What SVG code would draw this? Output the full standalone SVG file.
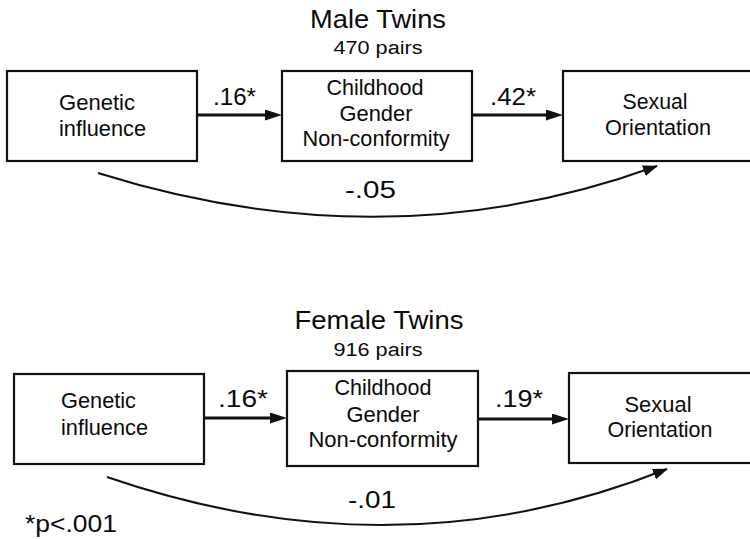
<svg xmlns="http://www.w3.org/2000/svg" width="750" height="539" viewBox="0 0 750 539">
<style>
  .box { fill: #ffffff; stroke: #111111; stroke-width: 2.2; }
  .t { font-family: "Liberation Sans", Arial, sans-serif; fill: #0a0a0a; }
  .lbl { font-size: 22.5px; }
  .num { font-size: 24px; }
  .ttl { font-size: 26px; }
  .sub { font-size: 18px; }
  .mid { text-anchor: middle; }
  .arr { fill: none; stroke: #111111; stroke-width: 3.2; }
  .curve { fill: none; stroke: #111111; stroke-width: 2; }
</style>
<defs>
  <marker id="ah" markerUnits="userSpaceOnUse" markerWidth="18" markerHeight="12" refX="10" refY="5.5" orient="auto">
    <path d="M0,0 L17,5.5 L0,11 z" fill="#111111"/>
  </marker>
  <marker id="ahc" markerUnits="userSpaceOnUse" markerWidth="16" markerHeight="12" refX="14" refY="5.5" orient="auto">
    <path d="M0,0 L15,5.5 L0,11 z" fill="#111111"/>
  </marker>
</defs>
<rect width="750" height="539" fill="#ffffff"/>

<g id="male-title">
  <text class="t ttl mid" x="378" y="28" textLength="136" lengthAdjust="spacingAndGlyphs">Male Twins</text>
  <text class="t sub mid" x="378" y="54" textLength="89" lengthAdjust="spacingAndGlyphs">470 pairs</text>
</g>

<g id="male-genetic">
  <rect class="box" x="7" y="71" width="190" height="90"/>
  <text class="t lbl" x="59" y="110" textLength="76" lengthAdjust="spacingAndGlyphs">Genetic</text>
  <text class="t lbl" x="59" y="136" textLength="87" lengthAdjust="spacingAndGlyphs">influence</text>
</g>
<g id="male-cgn">
  <rect class="box" x="282" y="71" width="190" height="90"/>
  <text class="t lbl mid" x="375" y="95" textLength="97" lengthAdjust="spacingAndGlyphs">Childhood</text>
  <text class="t lbl mid" x="376" y="121" textLength="73" lengthAdjust="spacingAndGlyphs">Gender</text>
  <text class="t lbl mid" x="376" y="146" textLength="147" lengthAdjust="spacingAndGlyphs">Non-conformity</text>
</g>
<g id="male-so">
  <rect class="box" x="563" y="71" width="192" height="90"/>
  <text class="t lbl mid" x="655" y="109" textLength="65" lengthAdjust="spacingAndGlyphs">Sexual</text>
  <text class="t lbl mid" x="658" y="135" textLength="106" lengthAdjust="spacingAndGlyphs">Orientation</text>
</g>

<g id="female-title">
  <text class="t ttl mid" x="379" y="329" textLength="169" lengthAdjust="spacingAndGlyphs">Female Twins</text>
  <text class="t sub mid" x="378" y="356" textLength="89" lengthAdjust="spacingAndGlyphs">916 pairs</text>
</g>

<g id="female-genetic">
  <rect class="box" x="14" y="374" width="190" height="90"/>
  <text class="t lbl" x="61" y="408" textLength="75" lengthAdjust="spacingAndGlyphs">Genetic</text>
  <text class="t lbl" x="61" y="435" textLength="87" lengthAdjust="spacingAndGlyphs">influence</text>
</g>
<g id="female-cgn">
  <rect class="box" x="287" y="371" width="191" height="95"/>
  <text class="t lbl mid" x="383" y="395" textLength="97" lengthAdjust="spacingAndGlyphs">Childhood</text>
  <text class="t lbl mid" x="383" y="422" textLength="73" lengthAdjust="spacingAndGlyphs">Gender</text>
  <text class="t lbl mid" x="383" y="447" textLength="149" lengthAdjust="spacingAndGlyphs">Non-conformity</text>
</g>
<g id="female-so">
  <rect class="box" x="569" y="373" width="192" height="90"/>
  <text class="t lbl mid" x="658" y="412" textLength="67" lengthAdjust="spacingAndGlyphs">Sexual</text>
  <text class="t lbl mid" x="660" y="437" textLength="105" lengthAdjust="spacingAndGlyphs">Orientation</text>
</g>

<g id="connectors">
  <line class="arr" x1="197" y1="115" x2="275" y2="115" marker-end="url(#ah)"/>
  <line class="arr" x1="472" y1="115" x2="556" y2="115" marker-end="url(#ah)"/>
  <path class="curve" d="M98,173 Q388,264 657,166" marker-end="url(#ahc)"/>

  <line class="arr" x1="204" y1="418" x2="280" y2="418" marker-end="url(#ah)"/>
  <line class="arr" x1="478" y1="419" x2="562" y2="419" marker-end="url(#ah)"/>
  <path class="curve" d="M107,477 Q397,577 667,469" marker-end="url(#ahc)"/>

  <text class="t num" x="213" y="105" textLength="43" lengthAdjust="spacingAndGlyphs">.16*</text>
  <text class="t num" x="490" y="105" textLength="46" lengthAdjust="spacingAndGlyphs">.42*</text>
  <text class="t num" x="345" y="198" textLength="51" lengthAdjust="spacingAndGlyphs">-.05</text>

  <text class="t num" x="218" y="407" textLength="50" lengthAdjust="spacingAndGlyphs">.16*</text>
  <text class="t num" x="495" y="407" textLength="48" lengthAdjust="spacingAndGlyphs">.19*</text>
  <text class="t num" x="348" y="508" textLength="48" lengthAdjust="spacingAndGlyphs">-.01</text>
</g>

<text class="t num" x="25" y="532" textLength="92" lengthAdjust="spacingAndGlyphs">*p&lt;.001</text>
</svg>
